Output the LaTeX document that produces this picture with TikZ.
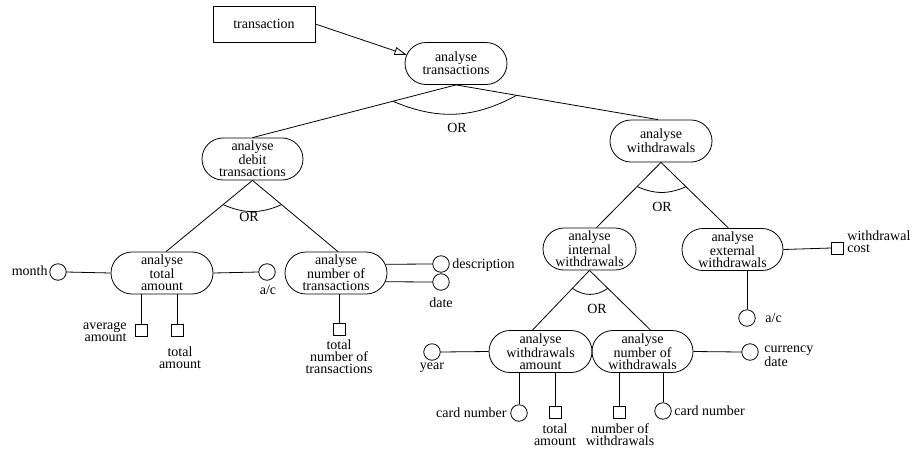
\documentclass[tikz,border=0pt]{standalone}
\usepackage{fontspec}
\setmainfont{Liberation Serif}
\usetikzlibrary{shapes.misc,arrows.meta,calc}
\begin{document}
\begin{tikzpicture}[x=1pt,y=-1pt,
  every node/.style={font=\fontsize{14}{12}\selectfont},
  proc/.style={rounded rectangle, draw, inner sep=0pt, minimum height=42pt, align=center},
  dat/.style={circle, draw, minimum size=16.5pt, inner sep=0pt},
  res/.style={rectangle, draw, minimum size=12pt, inner sep=0pt},
  lbl/.style={inner sep=0pt, align=center},
  orarc/.style={line width=0.8pt},
  line width=0.8pt]
\useasboundingbox (0,0) rectangle (916,448);
% process nodes
\node[rectangle,draw,minimum width=102pt,minimum height=36pt,inner sep=0pt] (tr) at (264,24) {transaction};
\node[proc,minimum width=102pt] (at) at (456,63.5) {analyse\\transactions};
\node[proc,minimum width=101pt] (dt) at (252.5,159) {analyse\\debit\\transactions};
\node[proc,minimum width=102pt] (wd) at (661,141) {analyse\\withdrawals};
\node[proc,minimum width=102pt] (ta) at (162,273) {analyse\\total\\amount};
\node[proc,minimum width=102pt] (nt) at (336,273) {analyse\\number of\\transactions};
\node[proc,minimum width=93pt] (iw) at (589.5,249) {analyse\\internal\\withdrawals};
\node[proc,minimum width=101pt] (ew) at (732.5,249.5) {analyse\\external\\withdrawals};
\node[proc,minimum width=103pt] (wa) at (540.5,351.5) {analyse\\withdrawals\\amount};
\node[proc,minimum width=101pt] (nw) at (642.5,351.5) {analyse\\number of\\withdrawals};
% data / result markers
\node[dat] (month) at (58,272) {};
\node[dat] (ac1) at (267,272) {};
\node[res] (aa) at (141.5,330.5) {};
\node[res] (tt1) at (177,330.5) {};
\node[dat] (desc) at (441,264) {};
\node[dat] (date) at (441,282) {};
\node[res] (tnt) at (339,329) {};
\node[dat] (year) at (432,352) {};
\node[dat] (cn1) at (519,413) {};
\node[res] (tt2) at (555,412) {};
\node[res] (nwd) at (619,412) {};
\node[dat] (cn2) at (663,411) {};
\node[dat] (cur) at (750,352) {};
\node[dat] (ac2) at (747,318) {};
\node[res] (wc) at (837.5,248) {};
% labels
\node[lbl,anchor=east] (lmonth) at (48,271) {month};
\node[lbl] (lac1) at (268,290) {a/c};
\node[lbl,anchor=east,align=right] (laa) at (127,332) {average\\amount};
\node[lbl] (ltt1) at (180,357.5) {total\\amount};
\node[lbl,anchor=west] (ldesc) at (452,265) {description};
\node[lbl] (ldate) at (441,303) {date};
\node[lbl] (ltnt) at (339,356.5) {total\\number of\\transactions};
\node[lbl] (lyear) at (432,368) {year};
\node[lbl,anchor=east] (lcn1) at (507,413) {card number};
\node[lbl] (ltt2) at (555,435) {total\\amount};
\node[lbl] (lnwd) at (620,435) {number of\\withdrawals};
\node[lbl,anchor=west] (lcn2) at (674,411) {card number};
\node[lbl,anchor=west,align=left] (lcur) at (764,356) {currency\\date};
\node[lbl,anchor=west] (lac2) at (765,318) {a/c};
\node[lbl,anchor=west,align=left] (lwc) at (847,242) {withdrawal\\cost};
\node[lbl] (or1) at (457,128) {OR};
\node[lbl] (or2) at (249,217) {OR};
\node[lbl] (or3) at (662,207) {OR};
\node[lbl] (or4) at (597,309) {OR};
% arrow
\draw[-{Triangle[open,length=12pt,width=8pt]}] (tr.east) -- (at.170);
% tree
\draw (at.south) -- (dt.north);
\draw (at.south) -- ([xshift=-3pt]wd.north);
\draw (dt.south) -- ([xshift=4pt]ta.north);
\draw (dt.south) -- ([xshift=2pt]nt.north);
\draw (wd.south) -- ([xshift=7pt]iw.north);
\draw (wd.south) -- ([xshift=-4pt]ew.north);
\draw (iw.south) -- ([xshift=-8pt]wa.north);
\draw (iw.south) -- ([xshift=8pt]nw.north);
% OR arcs
\draw[orarc] ($(at.south)!0.31!(dt.north)$) to[bend right=26] ($(at.south)!0.30!([xshift=-3pt]wd.north)$);
\draw[orarc] ($(dt.south)!0.34!([xshift=4pt]ta.north)$) to[bend right=24] ($(dt.south)!0.34!([xshift=2pt]nt.north)$);
\draw[orarc] ($(wd.south)!0.37!([xshift=7pt]iw.north)$) to[bend right=24] ($(wd.south)!0.37!([xshift=-4pt]ew.north)$);
\draw[orarc] ($(iw.south)!0.30!([xshift=-8pt]wa.north)$) to[bend right=36] ($(iw.south)!0.30!([xshift=8pt]nw.north)$);
% side connectors
\draw (month.east) -- (ta.west);
\draw (ta.east) -- (ac1.west);
\draw (aa.north) -- (aa.north |- ta.south);
\draw (tt1.north) -- (tt1.north |- ta.south);
\draw (nt.10) -- (desc.west);
\draw (nt.-10) -- (date.west);
\draw (tnt.north) -- (tnt.north |- nt.south);
\draw (year.east) -- (wa.west);
\draw (cn1.north) -- (cn1.north |- wa.south);
\draw (tt2.north) -- (tt2.north |- wa.south);
\draw (nwd.north) -- (nwd.north |- nw.south);
\draw (cn2.north) -- (cn2.north |- nw.south);
\draw (nw.east) -- (cur.west);
\draw (ac2.north) -- (ac2.north |- ew.south);
\draw (ew.east) -- (wc.west);
\end{tikzpicture}
\end{document}
